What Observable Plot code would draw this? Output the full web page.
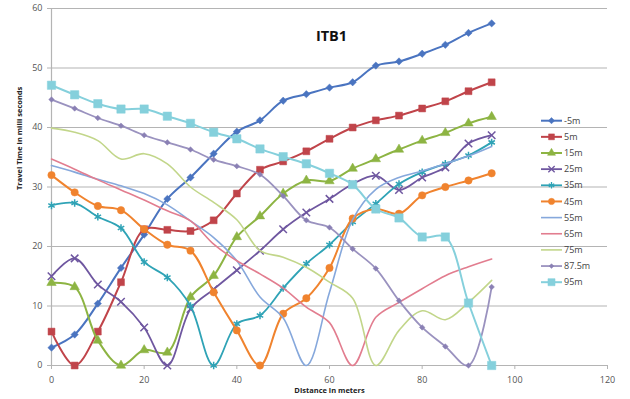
<!DOCTYPE html>
<html>
<head>
<meta charset="utf-8">
<script src="https://cdn.jsdelivr.net/npm/d3@7"></script>
<script src="https://cdn.jsdelivr.net/npm/@observablehq/plot@0.6"></script>
<style>
  html, body { margin: 0; padding: 0; background: #fff; }
  #chart { width: 630px; height: 399px; }
  svg text { font-family: "Open Sans", "Lato", sans-serif; }
</style>
</head>
<body>
<div id="chart"></div>
<script>
// Distance along the line (m)
const distance = [0, 5, 10, 15, 20, 25, 30, 35, 40, 45, 50, 55, 60, 65, 70, 75, 80, 85, 90, 95];

// Travel times (ms) per source depth
const depthNames = ["-5m", "5m", "15m", "25m", "35m", "45m", "55m", "65m", "75m", "87.5m", "95m"];
const tMinus5 = [3.0, 5.2, 10.4, 16.4, 22.0, 28.0, 31.6, 35.6, 39.3, 41.2, 44.5, 45.6, 46.7, 47.6, 50.4, 51.1, 52.4, 53.9, 55.9, 57.5];
const t5 = [5.7, 0, 5.7, 14.0, 22.9, 22.8, 22.6, 24.4, 28.9, 32.9, 34.3, 36.0, 38.1, 40.0, 41.2, 42.0, 43.2, 44.4, 46.1, 47.6];
const t15 = [13.9, 13.2, 4.2, 0, 2.6, 2.2, 11.5, 15.1, 21.6, 25.1, 28.9, 31.1, 31.0, 33.1, 34.7, 36.3, 37.8, 39.1, 40.7, 41.8];
const t25 = [15.0, 18.0, 13.6, 10.7, 6.4, 0, 9.5, 12.8, 16.0, 19.3, 22.9, 25.7, 28.0, 30.5, 31.9, 29.5, 31.6, 33.3, 37.3, 38.7];
const t35 = [26.9, 27.3, 25.0, 23.1, 17.4, 14.8, 10.0, 0, 7.0, 8.4, 13.0, 17.1, 20.3, 24.1, 27.2, 30.5, 32.5, 33.9, 35.3, 37.5];
const t45 = [32.0, 29.1, 26.8, 26.1, 22.9, 20.3, 19.3, 12.3, 5.9, 0, 8.7, 11.3, 16.4, 24.7, 26.3, 25.5, 28.6, 30.0, 31.1, 32.3];
const t55 = [33.6, 32.5, 31.3, 30.2, 28.9, 27.0, 24.3, 21.5, 17.6, 11.5, 8.0, 0, 12.3, 24.5, 29.6, 31.6, 32.7, 33.9, 35.2, 36.8];
const t65 = [34.7, 33.0, 31.2, 29.5, 27.8, 26.0, 24.3, 20.4, 17.6, 15.4, 13.0, 9.8, 7.2, 0, 8.1, 10.6, 12.9, 15.1, 16.6, 17.9];
const t75 = [39.9, 39.2, 37.8, 34.7, 35.6, 33.9, 30.0, 27.4, 24.5, 19.3, 18.2, 16.5, 14.0, 11.3, 0, 5.9, 9.2, 7.7, 10.6, 14.3];
const t87 = [44.7, 43.2, 41.6, 40.3, 38.7, 37.5, 36.3, 34.6, 33.5, 32.1, 28.5, 24.4, 23.2, 19.6, 16.3, 10.9, 6.4, 3.2, 0, 13.2];
const t95 = [47.1, 45.5, 44.0, 43.1, 43.1, 41.9, 40.7, 39.2, 38.1, 36.4, 35.1, 33.9, 32.3, 30.4, 26.3, 24.8, 21.6, 21.6, 10.5, 0];

const xTicks = [0, 20, 40, 60, 80, 100, 120];
const yTicks = [0, 10, 20, 30, 40, 50, 60];

// Line colour, marker and line width for each series
const styles = [
  {color: "#4a74c0", symbol: "diamond2", r: 3.3, width: 2},
  {color: "#c0444a", symbol: "square", r: 3.9, width: 2},
  {color: "#8db443", symbol: "triangle", r: 3.5, width: 2},
  {color: "#6f57a0", symbol: "times", r: 3.5, width: 1.8, hollow: true},
  {color: "#2fa3b6", symbol: "asterisk", r: 3.5, width: 1.8, hollow: true},
  {color: "#f0832e", symbol: "circle", r: 3.7, width: 2},
  {color: "#86a8dc", symbol: null, width: 1.6},
  {color: "#e27d8f", symbol: null, width: 1.6},
  {color: "#c2d68a", symbol: null, width: 1.6},
  {color: "#9a92bf", symbol: "diamond2", r: 2.5, width: 1.8, markColor: "#8a80b4"},
  {color: "#85d0dc", symbol: "square", r: 4.7, width: 2}
];

const seriesValues = [tMinus5, t5, t15, t25, t35, t45, t55, t65, t75, t87, t95];
const rows = seriesValues.map((vals, i) =>
  distance.map((d, j) => ({depth: depthNames[i], distance: d, time: vals[j]}))
);

const marks = [
  Plot.gridY(yTicks, {stroke: "#b4b4b4", strokeOpacity: 1, strokeWidth: 1.2}),
  Plot.ruleX([0], {stroke: "#b4b4b4", strokeWidth: 1.2}),
  Plot.axisX({ticks: xTicks, tickSize: 4, tickPadding: 7, label: null, stroke: "#b4b4b4", color: "#555", fontSize: 9}),
  Plot.axisY({ticks: yTicks, tickSize: 4, tickPadding: 5, label: null, stroke: "#b4b4b4", color: "#555", fontSize: 9}),
  Plot.text(["ITB1"], {frameAnchor: "top", dx: 2, dy: 22, fontSize: 14.5, fontWeight: 700, fill: "#111"}),
  Plot.text(["Travel Time in milli seconds"], {frameAnchor: "left", rotate: -90, dx: -32, dy: 3, fontSize: 7.5, fontWeight: 700, fill: "#222"}),
  Plot.text(["Distance in meters"], {frameAnchor: "bottom", dy: 27, fontSize: 7.5, fontWeight: 700, fill: "#222"})
];

rows.forEach((data, i) => {
  const s = styles[i];
  marks.push(Plot.line(data, {x: "distance", y: "time", stroke: s.color, strokeWidth: s.width, curve: "catmull-rom"}));
  if (s.symbol) {
    const mc = s.markColor || s.color;
    marks.push(Plot.dot(data, s.hollow
      ? {x: "distance", y: "time", symbol: () => s.symbol, r: s.r, stroke: mc, strokeWidth: 1.5, fill: "none"}
      : {x: "distance", y: "time", symbol: () => s.symbol, r: s.r, fill: mc, stroke: mc, strokeWidth: 0.5}));
  }
});

const chart = Plot.plot({
  width: 630,
  height: 399,
  marginLeft: 51,
  marginRight: 23,
  marginTop: 8,
  marginBottom: 34,
  x: {domain: [0, 120]},
  y: {domain: [0, 60]},
  symbol: {domain: ["diamond2", "square", "triangle", "times", "asterisk", "circle"], range: ["diamond2", "square", "triangle", "times", "asterisk", "circle"]},
  style: {background: "#fff", fontFamily: "'Open Sans', sans-serif"},
  marks
});
document.getElementById("chart").appendChild(chart);

// Series legend inside the plot area, on the right
const symbolTypes = {
  diamond2: d3.symbolDiamond2, square: d3.symbolSquare, triangle: d3.symbolTriangle,
  times: d3.symbolTimes, asterisk: d3.symbolAsterisk, circle: d3.symbolCircle
};
const legend = d3.select(chart).append("g").attr("class", "legend").attr("text-anchor", "start");
depthNames.forEach((name, i) => {
  const s = styles[i];
  const y = 120.7 + 16.15 * i;
  const g = legend.append("g").attr("transform", `translate(541,${y})`);
  g.append("line").attr("x1", 0).attr("x2", 21).attr("y1", 0).attr("y2", 0)
    .attr("stroke", s.color).attr("stroke-width", s.width);
  if (s.symbol) {
    const mc = s.markColor || s.color;
    const rr = s.r * 0.85;
    const path = d3.symbol(symbolTypes[s.symbol], Math.PI * rr * rr)();
    const p = g.append("path").attr("d", path).attr("transform", "translate(10.5,0)");
    if (s.hollow) p.attr("fill", "none").attr("stroke", mc).attr("stroke-width", 1.3);
    else p.attr("fill", mc).attr("stroke", mc).attr("stroke-width", 0.5);
  }
  g.append("text").attr("x", 23).attr("y", 0).attr("dy", "0.35em")
    .attr("text-anchor", "start")
    .attr("font-size", 9).attr("fill", "#444").text(name);
});
</script>
</body>
</html>
